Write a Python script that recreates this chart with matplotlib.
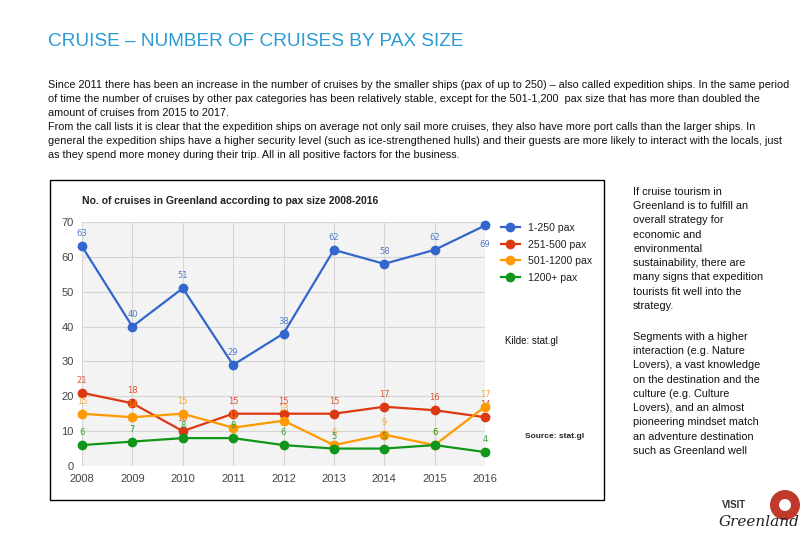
import matplotlib
matplotlib.use("Agg")
import matplotlib.pyplot as plt
from matplotlib.patches import Rectangle, Circle

years = [2008, 2009, 2010, 2011, 2012, 2013, 2014, 2015, 2016]
series_names = ["1-250 pax", "251-500 pax", "501-1200 pax", "1200+ pax"]
pax_1_250 = [63, 40, 51, 29, 38, 62, 58, 62, 69]
pax_251_500 = [21, 18, 10, 15, 15, 15, 17, 16, 14]
pax_501_1200 = [15, 14, 15, 11, 13, 6, 9, 6, 17]
pax_1200_plus = [6, 7, 8, 8, 6, 5, 5, 6, 4]
colors = ["#3366cc", "#dc3912", "#ff9900", "#109618"]

heading = "CRUISE \u2013 NUMBER OF CRUISES BY PAX SIZE"
body = ("Since 2011 there has been an increase in the number of cruises by the smaller ships (pax of up to 250) \u2013 also called expedition ships. In the same period\n"
        "of time the number of cruises by other pax categories has been relatively stable, except for the 501-1,200  pax size that has more than doubled the\n"
        "amount of cruises from 2015 to 2017.\n"
        "From the call lists it is clear that the expedition ships on average not only sail more cruises, they also have more port calls than the larger ships. In\n"
        "general the expedition ships have a higher security level (such as ice-strengthened hulls) and their guests are more likely to interact with the locals, just\n"
        "as they spend more money during their trip. All in all positive factors for the business.")
side_1 = ("If cruise tourism in\nGreenland is to fulfill an\noverall strategy for\neconomic and\nenvironmental\n"
          "sustainability, there are\nmany signs that expedition\ntourists fit well into the\nstrategy.")
side_2 = ("Segments with a higher\ninteraction (e.g. Nature\nLovers), a vast knowledge\non the destination and the\n"
          "culture (e.g. Culture\nLovers), and an almost\npioneering mindset match\nan adventure destination\nsuch as Greenland well")

W, H = 810, 540
txt_font = "Liberation Sans"

fig = plt.figure(figsize=(8.1, 5.4), dpi=100)
fig.patch.set_facecolor("white")


def fx(px):
    return px / W


def fy(py):
    return 1 - py / H


fig.text(fx(48), fy(42), heading, fontsize=13.7, color="#2a9bd5",
         family=txt_font, va="center")
fig.text(fx(48), fy(80), body, fontsize=7.85, family=txt_font, va="top",
         linespacing=1.49, color="#111111")
fig.text(fx(633), fy(187), side_1, fontsize=7.8, family=txt_font, va="top",
         linespacing=1.53, color="#111111")
fig.text(fx(633), fy(332), side_2, fontsize=7.8, family=txt_font, va="top",
         linespacing=1.53, color="#111111")

# chart image frame
fig.patches.append(Rectangle((fx(50), fy(500)), fx(604) - fx(50), fy(180) - fy(500),
                             transform=fig.transFigure, facecolor="white",
                             edgecolor="black", linewidth=1.0, zorder=0))

ax = fig.add_axes([fx(82), fy(466), fx(485) - fx(82), fy(222) - fy(466)])
ax.set_zorder(2)
ax.set_facecolor("#f3f3f3")
ax.set_xlim(2008, 2016)
ax.set_ylim(0, 70)
ax.set_xticks(years)
ax.set_yticks(range(0, 71, 10))
ax.grid(True, color="#d4d4d4", linewidth=0.8)
ax.set_axisbelow(True)
for s in ax.spines.values():
    s.set_visible(False)
ax.tick_params(length=0, labelsize=8, colors="#444444", pad=6)
for lab in ax.get_xticklabels() + ax.get_yticklabels():
    lab.set_family("Liberation Sans")

all_series = [pax_1_250, pax_251_500, pax_501_1200, pax_1200_plus]
for name, vals, c in zip(series_names, all_series, colors):
    ax.plot(years, vals, color=c, linewidth=1.6, marker="o", markersize=6,
            label=name, clip_on=False, zorder=3)
    for i, (x, v) in enumerate(zip(years, vals)):
        dy = 9
        if name == "1-250 pax" and i == len(years) - 1:
            dy = -14
        ax.annotate(str(v), (x, v), xytext=(0, dy), textcoords="offset points",
                    ha="center", va="center", fontsize=6, color=c, alpha=0.85,
                    annotation_clip=False)

ax.text(0, 1.065, "No. of cruises in Greenland according to pax size 2008-2016",
        transform=ax.transAxes, fontsize=7.5, fontweight="bold", color="#222222",
        family="Liberation Sans", va="bottom")

leg = ax.legend(loc="upper left", bbox_to_anchor=(1.015, 1.035), frameon=False,
                handlelength=1.8, labelspacing=0.62,
                prop={"family": "Liberation Sans", "size": 7.6})
for t in leg.get_texts():
    t.set_color("#222222")

fig.text(fx(525), fy(437), "Source: stat.gl", fontsize=6, fontweight="bold",
         family="Liberation Sans", va="center", color="#222222", zorder=3)
fig.text(fx(505), fy(341), "Kilde: stat.gl", fontsize=7, family=txt_font,
         va="center", color="#111111", zorder=3)

# logo
fig.patches.append(Circle((7.85, (H - 505) / 100), 0.15, transform=fig.dpi_scale_trans,
                          facecolor="#c0392b", edgecolor="none"))
fig.patches.append(Circle((7.85, (H - 505) / 100), 0.06, transform=fig.dpi_scale_trans,
                          facecolor="white", edgecolor="none"))
fig.text(fx(722), fy(505), "VISIT", fontsize=7, fontweight="bold",
         family="Liberation Sans", color="#333333", va="center")
fig.text(fx(719), fy(522), "Greenland", fontsize=11, fontstyle="italic",
         family="DejaVu Serif", color="#222222", va="center")

fig.savefig("out.png", dpi=100)
